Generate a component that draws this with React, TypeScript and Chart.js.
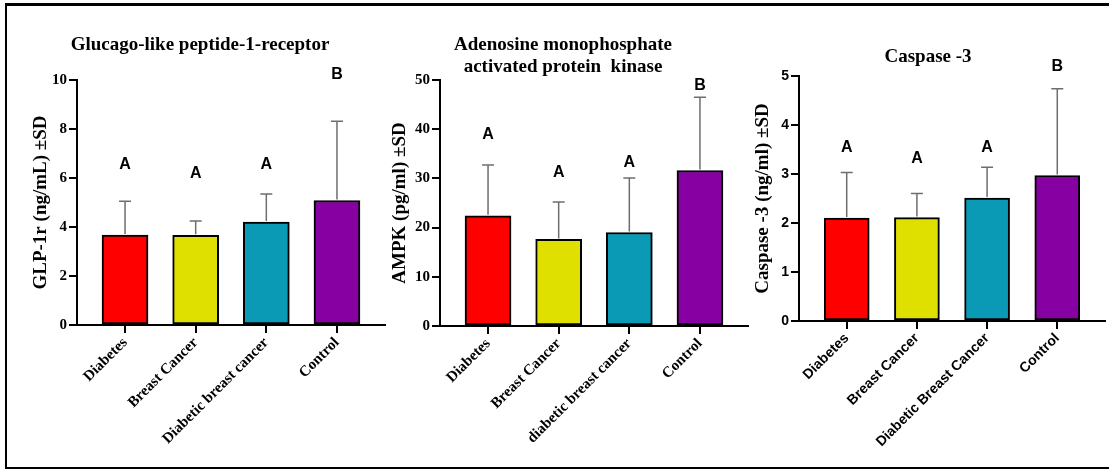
import React, { useEffect, useRef } from "react";
import { Chart, registerables } from "chart.js";

Chart.register(...registerables);

// ---------- data ----------
const glpCategories = ["Diabetes", "Breast Cancer", "Diabetic breast cancer", "Control"];
const glpMeans = [3.67, 3.66, 4.2, 5.08];
const glpSD = [1.38, 0.59, 1.15, 3.24];
const glpLetters = ["A", "A", "A", "B"];
const glpLetterY = [6.55, 6.2, 6.55, 10.24];

const ampkCategories = ["Diabetes", "Breast Cancer", "diabetic breast cancer", "Control"];
const ampkMeans = [22.4, 17.6, 19.0, 31.6];
const ampkSD = [10.3, 7.6, 11.1, 14.9];
const ampkLetters = ["A", "A", "A", "B"];
const ampkLetterY = [38.9, 31.2, 33.3, 48.9];

const caspCategories = ["Diabetes", "Breast Cancer", "Diabetic Breast Cancer", "Control"];
const caspMeans = [2.1, 2.11, 2.51, 2.97];
const caspSD = [0.93, 0.49, 0.63, 1.77];
const caspLetters = ["A", "A", "A", "B"];
const caspLetterY = [3.54, 3.32, 3.54, 5.2];

const barColors = ["#FF0000", "#E0E000", "#0A9AB6", "#8700A1"];

const H = 469;
const SERIF = "'Liberation Serif', 'Times New Roman', serif";
const SANS = "'Liberation Sans', Arial, sans-serif";

type PanelCfg = {
  labels: string[];
  means: number[];
  sd: number[];
  letters: string[];
  letterY: number[];
  yMax: number;
  yStep: number;
  yTitle: string;
  yTitleCenter: number;
  titleLines: string[];
  titleX: number;
  titleY: number[];
  tickFamily: string;
  tickSize: number;
  canvasLeft: number;
  canvasWidth: number;
  area: { left: number; right: number; top: number; bottom: number };
  barThickness: number;
};

const panels: PanelCfg[] = [
  {
    labels: glpCategories,
    means: glpMeans,
    sd: glpSD,
    letters: glpLetters,
    letterY: glpLetterY,
    yMax: 10,
    yStep: 2,
    yTitle: "GLP-1r (ng/mL) ±SD",
    yTitleCenter: 41,
    titleLines: ["Glucago-like peptide-1-receptor"],
    titleX: 200,
    titleY: [45],
    tickFamily: SERIF,
    tickSize: 15,
    canvasLeft: 0,
    canvasWidth: 390,
    area: { left: 77, right: 385, top: 80, bottom: 325 },
    barThickness: 46,
  },
  {
    labels: ampkCategories,
    means: ampkMeans,
    sd: ampkSD,
    letters: ampkLetters,
    letterY: ampkLetterY,
    yMax: 50,
    yStep: 10,
    yTitle: "AMPK (pg/ml) ±SD",
    yTitleCenter: 400,
    titleLines: ["Adenosine monophosphate", "activated protein  kinase"],
    titleX: 563,
    titleY: [45, 67],
    tickFamily: SERIF,
    tickSize: 15,
    canvasLeft: 380,
    canvasWidth: 375,
    area: { left: 440, right: 748, top: 80, bottom: 326 },
    barThickness: 46,
  },
  {
    labels: caspCategories,
    means: caspMeans,
    sd: caspSD,
    letters: caspLetters,
    letterY: caspLetterY,
    yMax: 5,
    yStep: 1,
    yTitle: "Caspase -3 (ng/ml) ±SD",
    yTitleCenter: 763,
    titleLines: ["Caspase -3"],
    titleX: 928,
    titleY: [57],
    tickFamily: SANS,
    tickSize: 14,
    canvasLeft: 745,
    canvasWidth: 364,
    area: { left: 799, right: 1105, top: 76, bottom: 321 },
    barThickness: 45,
  },
];

function Panel({ cfg }: { cfg: PanelCfg }) {
  const ref = useRef<HTMLCanvasElement | null>(null);
  useEffect(() => {
    const canvas = ref.current;
    if (!canvas) return;
    const localLeft = cfg.area.left - cfg.canvasLeft;
    const localRight = cfg.area.right - cfg.canvasLeft;
    const titleFontSize = 19;
    const titleLineHeight = titleFontSize * 1.2;

    const overlay = {
      id: "overlay" + cfg.canvasLeft,
      afterDatasetsDraw(chart: any) {
        const ctx = chart.ctx;
        const xs = chart.scales.x;
        const ys = chart.scales.y;
        ctx.save();
        // error bars (upper only)
        ctx.strokeStyle = "#6e6e6e";
        ctx.lineWidth = 1.5;
        cfg.means.forEach((m, i) => {
          const x = xs.getPixelForValue(i);
          const y0 = ys.getPixelForValue(m);
          const y1 = ys.getPixelForValue(m + cfg.sd[i]);
          ctx.beginPath();
          ctx.moveTo(x, y0 - 1);
          ctx.lineTo(x, y1);
          ctx.moveTo(x - 6, y1);
          ctx.lineTo(x + 6, y1);
          ctx.stroke();
        });
        // significance letters
        ctx.fillStyle = "#000";
        ctx.font = `bold 16px ${SANS}`;
        ctx.textAlign = "center";
        ctx.textBaseline = "middle";
        cfg.letters.forEach((l, i) => {
          ctx.fillText(l, xs.getPixelForValue(i), ys.getPixelForValue(cfg.letterY[i]));
        });
        ctx.restore();
      },
      afterDraw(chart: any) {
        const ctx = chart.ctx;
        ctx.save();
        ctx.fillStyle = "#000";
        ctx.font = `bold 19px ${SERIF}`;
        ctx.textAlign = "center";
        ctx.textBaseline = "middle";
        cfg.titleLines.forEach((t, k) => {
          ctx.fillText(t, cfg.titleX - cfg.canvasLeft, cfg.titleY[k]);
        });
        ctx.restore();
      },
    };

    const axisGrid = {
      display: true,
      drawOnChartArea: false,
      drawTicks: true,
      tickLength: 8,
      color: "#000",
      lineWidth: 2,
      offset: false,
    };
    const axisBorder = { display: true, color: "#000", width: 2 };

    const chart = new Chart(canvas, {
      type: "bar",
      data: {
        datasets: [
          {
            data: cfg.means.map((m, i) => ({ x: i, y: m })),
            backgroundColor: barColors,
            borderColor: "#000",
            borderWidth: 2,
            borderSkipped: false,
            barThickness: cfg.barThickness,
          } as any,
        ],
      },
      options: {
        animation: false,
        responsive: false,
        maintainAspectRatio: false,
        layout: {
          padding: { left: 0, right: cfg.canvasWidth - localRight, top: cfg.area.top, bottom: 0 },
        },
        plugins: {
          legend: { display: false },
          tooltip: { enabled: false },
          title: { display: false },
        },
        scales: {
          x: {
            type: "linear",
            offset: false,
            min: -0.68,
            max: 3.68,
            afterBuildTicks: (s: any) => {
              s.ticks = cfg.labels.map((_, i) => ({ value: i }));
            },
            afterFit: (s: any) => {
              s.height = H - cfg.area.bottom;
            },
            ticks: {
              autoSkip: false,
              maxRotation: 45,
              minRotation: 45,
              padding: 1,
              color: "#000",
              font: { family: cfg.tickFamily, size: cfg.tickSize, weight: "bold" },
              callback: (v: any) => cfg.labels[v] ?? "",
            },
            grid: axisGrid,
            border: axisBorder,
          },
          y: {
            min: 0,
            max: cfg.yMax,
            afterFit: (s: any) => {
              s.width = localLeft;
            },
            ticks: {
              stepSize: cfg.yStep,
              padding: 2,
              color: "#000",
              font: { family: cfg.tickFamily, size: cfg.tickSize, weight: "bold" },
            },
            title: {
              display: true,
              text: cfg.yTitle,
              color: "#000",
              font: { family: SERIF, size: titleFontSize, weight: "bold" },
              padding: { top: cfg.yTitleCenter - cfg.canvasLeft - titleLineHeight / 2, bottom: 0 },
            },
            grid: axisGrid,
            border: axisBorder,
          },
        } as any,
      },
      plugins: [overlay],
    });
    return () => chart.destroy();
  }, [cfg]);

  return (
    <canvas
      ref={ref}
      width={cfg.canvasWidth}
      height={H}
      style={{
        position: "absolute",
        left: cfg.canvasLeft,
        top: 0,
        width: cfg.canvasWidth,
        height: H,
      }}
    />
  );
}

export default function App() {
  return (
    <div
      style={{
        position: "fixed",
        left: 0,
        top: 0,
        width: 1109,
        height: H,
        background: "#fff",
        overflow: "hidden",
      }}
    >
      <div
        style={{
          position: "absolute",
          left: 5,
          top: 3,
          width: 1200,
          height: 466,
          boxSizing: "border-box",
          borderLeft: "2.5px solid #000",
          borderTop: "3px solid #000",
          borderBottom: "2px solid #000",
        }}
      />
      {panels.map((p) => (
        <Panel key={p.canvasLeft} cfg={p} />
      ))}
    </div>
  );
}
